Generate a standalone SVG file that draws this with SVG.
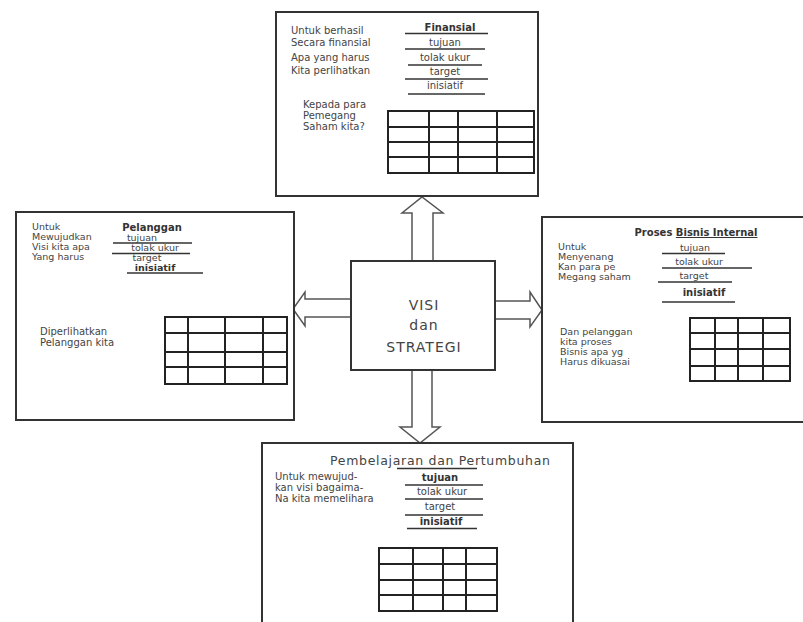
<svg xmlns="http://www.w3.org/2000/svg" width="803" height="622" viewBox="0 0 803 622">
<style>
.box{fill:#fff;stroke:#333;stroke-width:2}
.grid{fill:none;stroke:#222;stroke-width:2}
.ul{stroke:#333;stroke-width:1.3}
.t{font-family:"DejaVu Sans",sans-serif;font-size:10px;fill:#444}
.s{font-size:9.5px}
.m{text-anchor:middle}
.b{font-weight:bold;fill:#333}
.ttl{font-size:12.5px}
.c{font-family:"DejaVu Sans",sans-serif;font-size:14px;fill:#444;text-anchor:middle;letter-spacing:1px}
.arr{fill:#fff;stroke:#555;stroke-width:1.5;stroke-linejoin:miter}
</style>
<rect width="803" height="622" fill="#fff"/>

<g id="connectors">
<polygon class="arr" points="412,261 412,213 402,213 422,197 443,213 433,213 433,261"/>
<polygon class="arr" points="412,370 412,427 400,427 420,443 440,427 432,427 432,370"/>
<polygon class="arr" points="351,299 305,299 305,292 293,309 305,326 305,317 351,317"/>
<polygon class="arr" points="495,301 530,301 530,292 542,310 530,327 530,319 495,319"/>
</g>

<g id="finansial">
<rect class="box" x="276" y="12" width="262" height="184"/>
<text class="t" x="291" y="34">Untuk berhasil</text>
<text class="t" x="291" y="46">Secara finansial</text>
<text class="t" x="291" y="61">Apa yang harus</text>
<text class="t" x="291" y="74">Kita perlihatkan</text>
<text class="t m b" x="450" y="31">Finansial</text>
<text class="t m" x="445" y="46">tujuan</text>
<text class="t m" x="445" y="61">tolak ukur</text>
<text class="t m" x="445" y="75">target</text>
<text class="t m" x="445" y="89">inisiatif</text>
<line class="ul" x1="405" y1="33.5" x2="488" y2="33.5" stroke-width="2"/>
<line class="ul" x1="405" y1="49" x2="485" y2="49"/>
<line class="ul" x1="408" y1="65" x2="482" y2="65" stroke="#999"/>
<line class="ul" x1="405" y1="79" x2="488" y2="79"/>
<line class="ul" x1="408" y1="94" x2="485" y2="94" stroke="#999"/>
<text class="t" x="303" y="108">Kepada para</text>
<text class="t" x="303" y="119">Pemegang</text>
<text class="t" x="303" y="130">Saham kita?</text>
<rect class="grid" x="388" y="111" width="146" height="62"/>
<path class="grid" d="M429 111V173M458 111V173M497 111V173M388 127H534M388 157H534"/>
<path class="grid" d="M388 142H534" stroke="#888" stroke-width="1"/>
</g>

<g id="pelanggan">
<rect class="box" x="16" y="212" width="278" height="208"/>
<text class="t s" x="32" y="230">Untuk</text>
<text class="t s" x="32" y="240">Mewujudkan</text>
<text class="t s" x="32" y="250">Visi kita apa</text>
<text class="t s" x="32" y="260">Yang harus</text>
<text class="t m b" x="152" y="231">Pelanggan</text>
<text class="t s m" x="142" y="241">tujuan</text>
<text class="t s m" x="155" y="251">tolak ukur</text>
<text class="t s m" x="147" y="261">target</text>
<text class="t s m b" x="155" y="271">inisiatif</text>
<line class="ul" x1="113" y1="243" x2="192" y2="243"/>
<line class="ul" x1="112" y1="253.5" x2="190" y2="253.5"/>
<line class="ul" x1="127" y1="273" x2="203" y2="273" stroke-width="1.6"/>
<text class="t" x="40" y="335">Diperlihatkan</text>
<text class="t" x="40" y="346">Pelanggan kita</text>
<rect class="grid" x="165" y="317" width="122" height="67"/>
<path class="grid" d="M188 317V384M225 317V384M263 317V384M165 333H287M165 352H287M165 367H287"/>
</g>

<g id="proses">
<rect class="box" x="542" y="217" width="280" height="205"/>
<text class="t m b" x="696" y="236">Proses <tspan text-decoration="underline">Bisnis Internal</tspan></text>
<text class="t s" x="558" y="250">Untuk</text>
<text class="t s" x="558" y="260">Menyenang</text>
<text class="t s" x="558" y="270">Kan para pe</text>
<text class="t s" x="558" y="280">Megang saham</text>
<text class="t s m" x="695" y="251">tujuan</text>
<text class="t s m" x="699" y="265">tolak ukur</text>
<text class="t s m" x="694" y="279">target</text>
<text class="t m b" x="704" y="296">inisiatif</text>
<line class="ul" x1="662" y1="253.5" x2="725" y2="253.5"/>
<line class="ul" x1="662" y1="268" x2="752" y2="268"/>
<line class="ul" x1="658" y1="282" x2="732" y2="282"/>
<line class="ul" x1="662" y1="302" x2="735" y2="302" stroke-width="2"/>
<text class="t s" x="560" y="335">Dan pelanggan</text>
<text class="t s" x="560" y="345">kita proses</text>
<text class="t s" x="560" y="355">Bisnis apa yg</text>
<text class="t s" x="560" y="365">Harus dikuasai</text>
<rect class="grid" x="690" y="318" width="100" height="63"/>
<path class="grid" d="M715 318V381M738 318V381M763 318V381M690 333H790M690 349H790M690 366H790"/>
</g>

<g id="pembelajaran">
<rect class="box" x="262" y="443" width="311" height="200"/>
<text class="t ttl" x="330" y="465" textLength="220" lengthAdjust="spacing">Pembelajaran dan Pertumbuhan</text>
<line class="ul" x1="397" y1="468.5" x2="477" y2="468.5"/>
<text class="t" x="275" y="480">Untuk mewujud-</text>
<text class="t" x="275" y="491">kan visi bagaima-</text>
<text class="t" x="275" y="502">Na kita memelihara</text>
<text class="t m b" x="440" y="481">tujuan</text>
<text class="t m" x="442" y="495">tolak ukur</text>
<text class="t m" x="440" y="510">target</text>
<text class="t m b" x="441" y="525">inisiatif</text>
<line class="ul" x1="405" y1="485" x2="483" y2="485" stroke-width="1.8"/>
<line class="ul" x1="405" y1="499" x2="483" y2="499" stroke-width="1.8"/>
<line class="ul" x1="405" y1="515" x2="483" y2="515"/>
<line class="ul" x1="407" y1="528.5" x2="477" y2="528.5" stroke-width="1.8"/>
<rect class="grid" x="379" y="548" width="118" height="63"/>
<path class="grid" d="M413 548V611M443 548V611M466 548V611M379 564H497M379 595H497"/>
<path class="grid" d="M379 580H497" stroke="#888" stroke-width="1"/>
</g>

<g id="visi">
<rect class="box" x="351" y="261" width="144" height="109"/>
<text class="c" x="424" y="310">VISI</text>
<text class="c" x="424" y="330">dan</text>
<text class="c" x="424" y="352">STRATEGI</text>
</g>
</svg>
